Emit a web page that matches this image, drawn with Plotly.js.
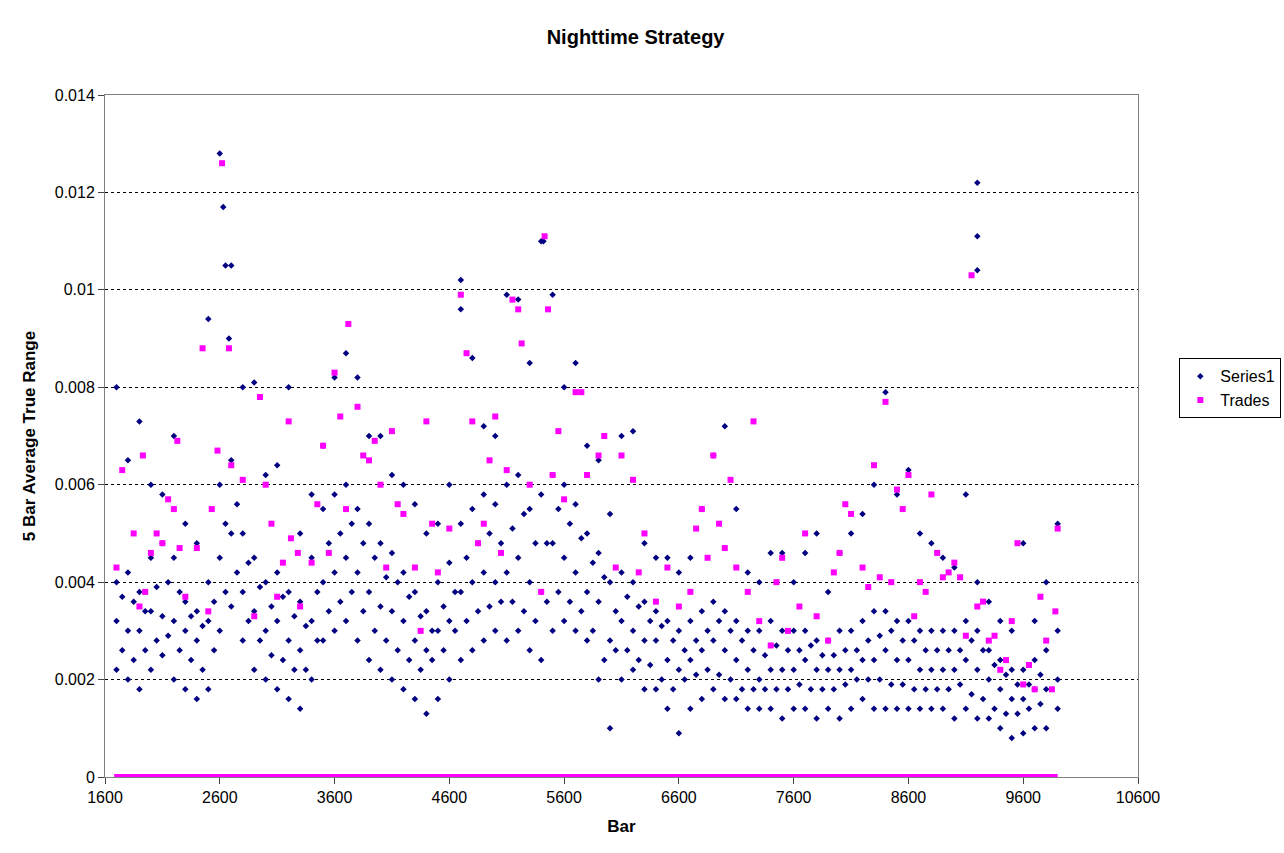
<!DOCTYPE html>
<html><head><meta charset="utf-8">
<script src="https://cdn.plot.ly/plotly-3.0.1.min.js"></script>
<style>body{margin:0;background:#fff}#c{width:1284px;height:853px}</style>
</head><body><div id="c"></div>
<script>
// Series1: bar positions and representative values (x 0.001)
const s1Bars=[];for(let b=1700;b<=9900;b+=100)s1Bars.push(b);
const s1Low=[2.2,2.0,1.8,2.2,2.5,2.0,1.8,1.6,1.8,3.0,3.5,2.8,2.2,2.0,1.8,1.6,1.4,2.0,2.8,3.0,3.2,2.8,2.4,2.2,2.0,1.8,1.6,1.3,1.6,2.0,2.4,2.6,2.8,3.0,2.8,3.0,2.6,2.4,3.0,3.2,3.0,2.8,2.0,1.0,2.0,2.2,1.8,1.8,1.4,0.9,1.4,1.6,1.8,1.6,1.6,1.4,1.4,1.4,1.2,1.4,1.4,1.2,1.4,1.2,1.4,1.6,1.4,1.4,1.4,1.4,1.4,1.4,1.4,1.2,1.4,1.2,1.2,1.0,0.8,0.9,1.0,1.0,1.4];
const s1Mid1=[3.2,3.0,3.0,3.4,3.3,3.2,3.0,2.8,3.2,4.5,5.0,3.8,3.4,3.0,3.2,2.8,2.6,3.2,4.0,4.2,4.5,4.2,3.8,3.5,3.4,3.2,2.8,2.6,3.0,3.2,3.8,4.0,4.2,4.0,4.2,4.5,4.0,3.8,4.8,4.5,4.2,3.8,3.6,2.8,3.2,3.0,2.8,2.8,2.4,2.2,2.4,2.6,2.8,2.6,2.4,2.2,2.0,2.2,2.2,2.2,2.4,2.2,2.2,2.2,2.2,2.4,2.4,2.6,2.4,2.4,2.2,2.2,2.2,2.2,2.4,2.2,2.0,1.8,1.6,1.6,1.8,1.8,2.0];
const s1Mid2=[4.0,4.2,3.8,4.5,4.8,4.5,3.6,3.4,4.0,6.0,6.5,5.0,4.5,4.0,4.2,3.8,3.6,4.5,5.5,5.8,6.0,5.5,5.2,4.8,4.6,4.2,3.8,3.4,4.0,4.4,5.2,5.5,5.8,5.6,6.0,6.2,5.5,5.8,6.2,6.0,5.6,5.0,4.6,4.0,4.2,4.0,3.6,3.4,3.2,3.0,3.2,3.4,3.6,3.4,3.2,3.0,3.0,3.2,3.0,3.0,3.0,2.8,2.8,3.0,3.0,3.2,3.4,3.4,3.2,3.2,3.0,3.0,3.0,3.0,3.2,3.0,2.6,2.4,2.2,2.2,2.4,2.6,3.0];
const s1High=[8.0,6.5,7.3,6.0,5.8,7.0,5.2,4.8,9.4,12.8,10.5,8.0,8.1,6.2,6.4,8.0,5.0,5.8,6.8,8.2,8.7,8.2,7.0,7.0,6.2,6.0,5.6,5.0,5.2,6.0,10.2,8.6,7.2,7.0,9.9,9.8,8.5,11.0,9.9,8.0,8.5,6.8,6.5,5.4,7.0,7.1,4.8,4.5,4.5,4.2,4.5,5.5,6.6,7.2,5.5,4.2,4.0,4.6,4.6,4.0,4.6,5.0,3.8,4.6,5.0,5.4,6.0,7.9,5.8,6.3,5.0,4.8,4.5,4.3,5.8,4.0,3.6,3.2,3.0,4.8,3.2,4.0,5.2];
// in-between bars (1750..9850)
const s1HalfBars=[];for(let b=1750;b<=9850;b+=100)s1HalfBars.push(b);
const s1HalfA=[2.6,2.4,2.6,2.8,2.9,2.6,2.4,2.2,2.6,3.8,4.2,3.2,2.8,2.5,2.4,2.2,2.2,2.8,3.4,3.6,3.8,3.4,3.0,2.8,2.6,2.4,2.2,2.4,2.6,3.0,3.2,3.4,3.5,3.6,3.6,3.4,3.2,3.6,3.8,3.6,3.4,3.0,2.4,2.6,2.6,2.4,2.3,2.0,1.8,2.0,2.1,2.2,2.1,2.0,1.8,1.8,1.8,1.8,1.8,1.9,1.8,1.8,1.8,1.9,2.0,2.0,2.0,1.9,1.9,1.8,1.8,1.8,1.8,1.9,1.7,1.6,1.4,1.3,1.3,1.4,1.5];
const s1HalfB=[3.7,3.6,3.4,3.9,4.0,3.8,3.3,3.1,3.6,5.2,5.6,4.4,3.9,3.5,3.7,3.3,3.1,3.8,4.8,5.0,5.2,4.8,4.5,4.1,4.0,3.7,3.3,3.0,3.5,3.8,4.5,4.8,5.0,4.8,5.1,5.4,4.8,4.8,5.5,5.2,4.9,4.4,4.1,3.4,3.7,3.5,3.2,3.1,2.8,2.6,2.8,3.0,3.2,3.0,2.8,2.6,2.5,2.7,2.6,2.6,2.7,2.5,2.5,2.6,2.6,2.8,2.9,3.0,2.8,2.8,2.6,2.6,2.6,2.6,2.8,2.6,2.3,2.1,1.9,1.9,2.1];
const s1ExtraX=[9200,9200,9200,2630,2650,2680,4700,5420];
const s1ExtraY=[12.2,11.1,10.4,11.7,10.5,9.0,9.6,11.0];
// Trades
const trX=[1700,1750,1850,1900,1930,1950,2000,2050,2100,2150,2200,2230,2250,2300,2400,2450,2500,2530,2580,2620,2680,2700,2800,2900,2950,3000,3050,3100,3150,3200,3220,3280,3300,3400,3450,3500,3550,3600,3650,3700,3720,3800,3850,3900,3950,4000,4050,4100,4150,4200,4300,4350,4400,4450,4500,4600,4700,4750,4800,4850,4900,4950,5000,5050,5100,5150,5200,5230,5300,5400,5430,5460,5500,5550,5600,5700,5750,5800,5900,5950,6050,6100,6200,6250,6300,6400,6500,6600,6700,6750,6800,6850,6900,6950,7000,7050,7100,7200,7250,7300,7400,7450,7500,7550,7650,7700,7800,7900,7950,8000,8050,8100,8200,8250,8300,8350,8400,8450,8500,8550,8600,8650,8700,8750,8800,8850,8900,8950,9000,9050,9100,9150,9200,9250,9300,9350,9400,9450,9500,9550,9600,9650,9700,9750,9800,9850,9880,9900];
const trY=[4.3,6.3,5.0,3.5,6.6,3.8,4.6,5.0,4.8,5.7,5.5,6.9,4.7,3.7,4.7,8.8,3.4,5.5,6.7,12.6,8.8,6.4,6.1,3.3,7.8,6.0,5.2,3.7,4.4,7.3,4.9,4.6,3.5,4.4,5.6,6.8,4.6,8.3,7.4,5.5,9.3,7.6,6.6,6.5,6.9,6.0,4.3,7.1,5.6,5.4,4.3,3.0,7.3,5.2,4.2,5.1,9.9,8.7,7.3,4.8,5.2,6.5,7.4,4.6,6.3,9.8,9.6,8.9,6.0,3.8,11.1,9.6,6.2,7.1,5.7,7.9,7.9,6.2,6.6,7.0,4.3,6.6,6.1,4.2,5.0,3.6,4.3,3.5,3.8,5.1,5.5,4.5,6.6,5.2,4.7,6.1,4.3,3.8,7.3,3.2,2.7,4.0,4.5,3.0,3.5,5.0,3.3,2.8,4.2,4.6,5.6,5.4,4.3,3.9,6.4,4.1,7.7,4.0,5.9,5.5,6.2,3.3,4.0,3.8,5.8,4.6,4.1,4.2,4.4,4.1,2.9,10.3,3.5,3.6,2.8,2.9,2.2,2.4,3.2,4.8,1.9,2.3,1.8,3.7,2.8,1.8,3.4,5.1];
const zeroTradeX=[1680,9900];
const zeroTradeY=[0,0];
const xTicks=[1600,2600,3600,4600,5600,6600,7600,8600,9600,10600];
const yTicks=[0,0.002,0.004,0.006,0.008,0.01,0.012,0.014];
const yTickText=['0','0.002','0.004','0.006','0.008','0.01','0.012','0.014'];

const sx=[],sy=[];
[s1Low,s1Mid1,s1Mid2,s1High].forEach(a=>a.forEach((v,i)=>{sx.push(s1Bars[i]);sy.push(v/1000);}));
[s1HalfA,s1HalfB].forEach(a=>a.forEach((v,i)=>{sx.push(s1HalfBars[i]);sy.push(v/1000);}));
s1ExtraX.forEach((b,i)=>{sx.push(b);sy.push(s1ExtraY[i]/1000);});

const traces=[
 {x:sx,y:sy,type:'scatter',mode:'markers',name:'Series1',marker:{symbol:'diamond',size:5,color:'#000080'}},
 {x:trX,y:trY.map(v=>v/1000),type:'scatter',mode:'markers',name:'Trades',marker:{symbol:'square',size:6,color:'#FF00FF'}},
 {x:zeroTradeX,y:zeroTradeY,type:'scatter',mode:'lines',line:{color:'#FF00FF',width:6},showlegend:false,hoverinfo:'skip'}
];
const layout={
 width:1284,height:853,paper_bgcolor:'#fff',plot_bgcolor:'#fff',
 font:{family:'Liberation Sans, Arial',size:16,color:'#000'},
 title:{text:'<b>Nighttime Strategy</b>',x:0.495,y:0.965,font:{size:20}},
 margin:{l:105,r:146,t:95,b:76,autoexpand:false},
 xaxis:{range:[1600,10600],tickvals:xTicks,ticktext:xTicks.map(String),ticks:'outside',ticklen:6,showgrid:false,zeroline:false,showline:true,linecolor:'#808080',mirror:true,
  title:{text:'<b>Bar</b>',font:{size:17},standoff:14}},
 yaxis:{range:[0,0.014],tickvals:yTicks,ticktext:yTickText,ticks:'outside',ticklen:6,showgrid:true,gridcolor:'#000',griddash:'dot',gridwidth:1,zeroline:false,showline:true,linecolor:'#808080',mirror:true,
  title:{text:'<b>5 Bar Average True Range</b>',font:{size:17},standoff:14}},
 legend:{x:1.04,y:0.57,xanchor:'left',yanchor:'middle',bordercolor:'#000',borderwidth:1,font:{size:16}},
 showlegend:true
};
Plotly.newPlot('c',traces,layout,{staticPlot:true});
</script></body></html>
